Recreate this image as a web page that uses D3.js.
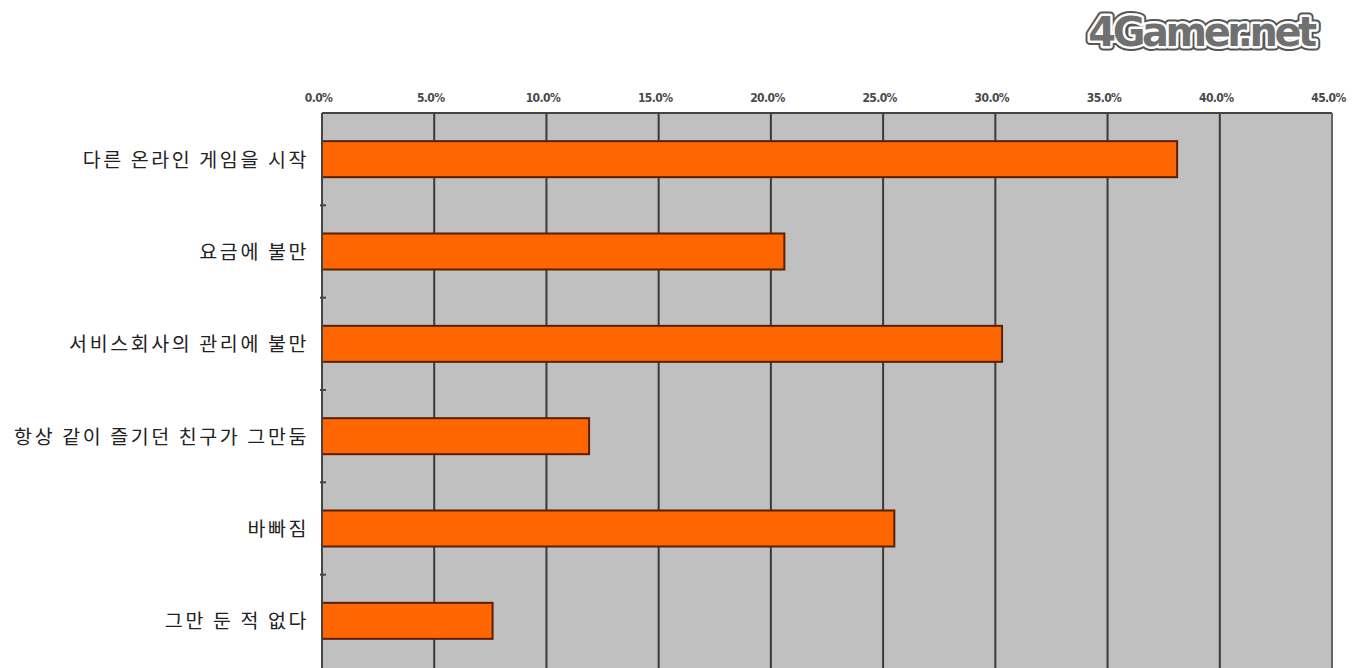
<!DOCTYPE html>
<html>
<head>
<meta charset="utf-8">
<script src="https://cdn.jsdelivr.net/npm/d3@7/dist/d3.min.js"></script>
<style>
  html, body { margin: 0; padding: 0; background: #fff; }
  svg { display: block; }
</style>
</head>
<body>
<svg id="chart" width="1362" height="668"></svg>
<script>
// Reasons for quitting an online game (share of respondents, %)
const categories = [
  "다른 온라인 게임을 시작",
  "요금에 불만",
  "서비스회사의 관리에 불만",
  "항상 같이 즐기던 친구가 그만둠",
  "바빠짐",
  "그만 둔 적 없다"
];
const values = [38.1, 20.6, 30.3, 11.9, 25.5, 7.6];
const tickValues = [0, 5, 10, 15, 20, 25, 30, 35, 40, 45];
const tickLabels = ["0.0%", "5.0%", "10.0%", "15.0%", "20.0%", "25.0%", "30.0%", "35.0%", "40.0%", "45.0%"];

const svg = d3.select("#chart");
const plot = { left: 322, right: 1332, top: 113, bottom: 667 };

const x = d3.scaleLinear().domain([0, 45]).range([plot.left, plot.right]);
const y = d3.scaleBand().domain(categories).range([plot.top, plot.bottom]).paddingInner(0.61).paddingOuter(0.305);
const yBand = d3.scaleBand().domain(categories).range([plot.top, plot.bottom]);

// plot background
svg.append("rect")
  .attr("x", plot.left).attr("y", plot.top)
  .attr("width", plot.right - plot.left).attr("height", plot.bottom - plot.top + 4)
  .attr("fill", "#c0c0c0");

// vertical gridlines
svg.append("g")
  .selectAll("line")
  .data(tickValues.slice(1, -1))
  .join("line")
  .attr("x1", d => x(d)).attr("x2", d => x(d))
  .attr("y1", plot.top).attr("y2", plot.bottom + 4)
  .attr("stroke", "#3a3a3a").attr("stroke-width", 2);

// top border
svg.append("line")
  .attr("x1", plot.left).attr("x2", plot.right)
  .attr("y1", plot.top).attr("y2", plot.top)
  .attr("stroke", "#444").attr("stroke-width", 2);

// right border
svg.append("line")
  .attr("x1", plot.right).attr("x2", plot.right)
  .attr("y1", plot.top).attr("y2", plot.bottom + 4)
  .attr("stroke", "#666").attr("stroke-width", 2);

// top axis tick labels
const xAxis = d3.axisTop(x).tickValues(tickValues)
  .tickFormat((d, i) => tickLabels[i]).tickSize(0).tickPadding(0);
const gx = svg.append("g").attr("transform", `translate(0, 102)`).call(xAxis);
gx.select(".domain").remove();
gx.selectAll("text")
  .attr("dx", -4)
  .attr("font-family", "'DejaVu Sans Condensed', 'Liberation Sans Narrow', sans-serif")
  .attr("font-size", 12).attr("font-weight", "bold")
  .attr("letter-spacing", -0.6)
  .attr("fill", "#4a4a4a");

// bars
svg.append("g")
  .selectAll("rect")
  .data(values)
  .join("rect")
  .attr("x", x(0))
  .attr("y", (d, i) => y(categories[i]))
  .attr("width", d => x(d) - x(0))
  .attr("height", y.bandwidth())
  .attr("fill", "#ff6600")
  .attr("stroke", "#5a1f05").attr("stroke-width", 2);

// left axis with small ticks at band boundaries
svg.append("line")
  .attr("x1", plot.left).attr("x2", plot.left)
  .attr("y1", plot.top).attr("y2", plot.bottom + 4)
  .attr("stroke", "#444").attr("stroke-width", 2);
svg.append("g")
  .selectAll("line")
  .data(categories.slice(1))
  .join("line")
  .attr("x1", plot.left - 2).attr("x2", plot.left + 4)
  .attr("y1", d => yBand(d)).attr("y2", d => yBand(d))
  .attr("stroke", "#444").attr("stroke-width", 2);

// category labels
svg.append("g")
  .selectAll("text")
  .data(categories)
  .join("text")
  .attr("x", 309)
  .attr("y", d => yBand(d) + yBand.bandwidth() / 2)
  .attr("dy", "0.38em")
  .attr("text-anchor", "end")
  .attr("font-family", "'Noto Sans CJK KR', sans-serif")
  .attr("font-size", 19.5)
  .attr("letter-spacing", 2.6)
  .attr("fill", "#222")
  .text(d => d);

// site logo
const logo = svg.append("g").attr("transform", "translate(1201, 46)");
const logoText = g => g.append("text")
  .attr("text-anchor", "middle")
  .attr("font-family", "'DejaVu Sans', sans-serif")
  .attr("font-weight", "bold")
  .attr("font-size", 40)
  .attr("letter-spacing", -3.5)
  .attr("fill", "#707070")
  .attr("stroke-linejoin", "round")
  .text("4Gamer.net");
logoText(logo).attr("stroke", "#555").attr("stroke-width", 9);
logoText(logo).attr("stroke", "#fff").attr("stroke-width", 5);
logoText(logo);
</script>
</body>
</html>
